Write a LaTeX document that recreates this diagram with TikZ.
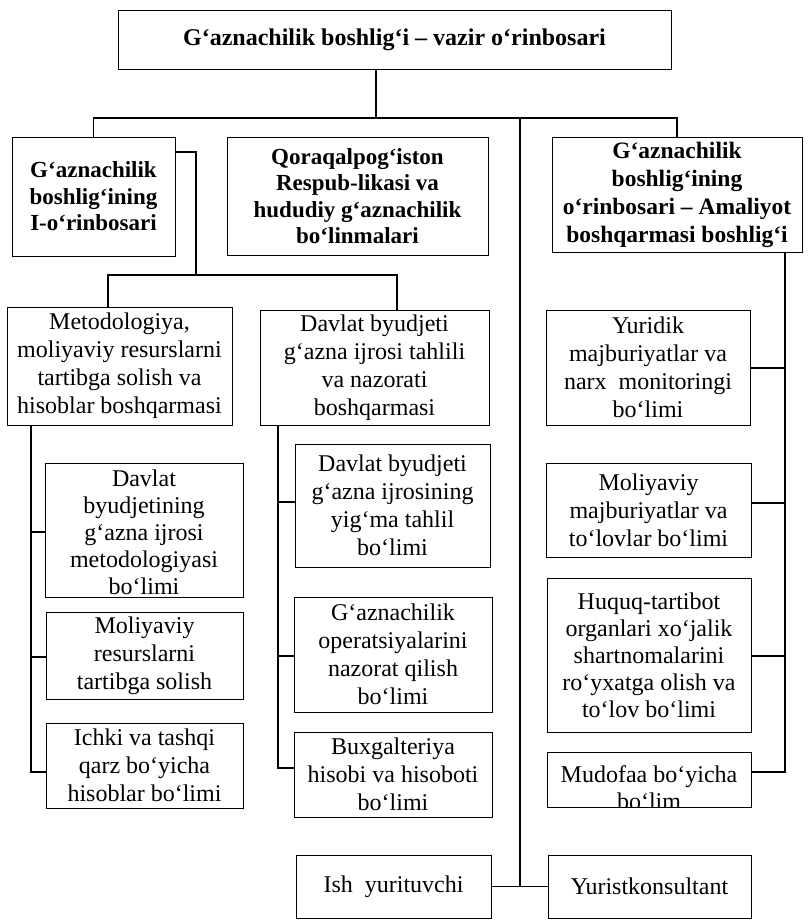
\documentclass[tikz,border=0pt]{standalone}
\usepackage{fontspec}
\setmainfont{Liberation Serif}
\begin{document}
\begin{tikzpicture}[x=1pt,y=-1pt,
  box/.style={draw, line width=1pt, inner sep=0pt, align=center},
  sz/.style n args={2}{minimum width=#1pt, minimum height=#2pt},
  bfont/.style={font=\fontsize{23}{26.5}\selectfont\bfseries},
  rfont/.style={font=\fontsize{24}{28}\selectfont},
  cfont/.style={font=\fontsize{24}{27}\selectfont},
  txt/.style={inner sep=0pt, align=center},
  wire/.style={line width=1.3pt}]
\useasboundingbox (0,0) rectangle (810,921);

% level 0
\node[box, sz={553}{59}, font=\fontsize{24}{28}\selectfont\bfseries] (top) at (394.5,39.5)
  {G‘aznachilik boshlig‘i – vazir o‘rinbosari};

% level 1
\node[box, sz={163}{119}, bfont] (L1) at (93.5,196.5)
  {G‘aznachilik\\boshlig‘ining\\I-o‘rinbosari};
\node[box, sz={261}{118}, bfont] (Q) at (357.5,196)
  {Qoraqalpog‘iston\\Respub-likasi va\\hududiy g‘aznachilik\\bo‘linmalari};
\node[box, sz={250}{115}, bfont, font=\fontsize{23.5}{28}\selectfont\bfseries] (R1) at (677,194.5)
  {G‘aznachilik\\boshlig‘ining\\o‘rinbosari – Amaliyot\\boshqarmasi boshlig‘i};

% level 2
\node[box, sz={225}{118}, rfont] (M) at (119.5,366)
  {Metodologiya,\\moliyaviy resurslarni\\tartibga solish va\\hisoblar boshqarmasi};
\node[box, sz={229}{115}, rfont] (D) at (374.5,367.5)
  {Davlat byudjeti\\g‘azna ijrosi tahlili\\va nazorati\\boshqarmasi};
\node[box, sz={204}{115}, rfont] (Y) at (648,367.5)
  {Yuridik\\majburiyatlar va\\narx\ \ monitoringi\\bo‘limi};

% M branch
\node[box, sz={198}{134}] (M1) at (144,530) {};
\begin{scope}
  \clip (M1.south west) rectangle (M1.north east);
  \node[txt, cfont] (M1t) at (144,532)
    {Davlat\\byudjetining\\g‘azna ijrosi\\metodologiyasi\\bo‘limi};
\end{scope}
\node[box, sz={197}{87}, rfont] (M2) at (144.5,655.5)
  {Moliyaviy\\resurslarni\\tartibga solish};
\node[box, sz={197}{85}, rfont] (M3) at (144.5,765.5)
  {Ichki va tashqi\\qarz bo‘yicha\\hisoblar bo‘limi};

% D branch
\node[box, sz={195}{123}, rfont] (D1) at (392.5,505.5)
  {Davlat byudjeti\\g‘azna ijrosining\\yig‘ma tahlil\\bo‘limi};
\node[box, sz={198}{115}, rfont] (D2) at (393,654.5)
  {G‘aznachilik\\operatsiyalarini\\nazorat qilish\\bo‘limi};
\node[box, sz={198}{85}, rfont] (D3) at (393,774.5)
  {Buxgalteriya\\hisobi va hisoboti\\bo‘limi};

% Y branch
\node[box, sz={205}{94}, rfont] (Y2) at (648.5,510)
  {Moliyaviy\\majburiyatlar va\\to‘lovlar bo‘limi};
\node[box, sz={204}{154}, cfont] (Y3) at (649,655)
  {Huquq-tartibot\\organlari xo‘jalik\\shartnomalarini\\ro‘yxatga olish va\\to‘lov bo‘limi};
\node[box, sz={204}{55}] (Y4) at (649,779.5) {};
\begin{scope}
  \clip (Y4.south west) rectangle (Y4.north east);
  \node[txt, cfont] (Y4t) at (649,788)
    {Mudofaa bo‘yicha\\bo‘lim};
\end{scope}

% bottom
\node[box, sz={195}{63}, rfont] (Ish) at (393.5,886.5) {Ish\ \ yurituvchi};
\node[box, sz={203}{63}, rfont] (Yur) at (649.5,886.5) {Yuristkonsultant};

% connectors
\coordinate (trunk) at (376,118);
\coordinate (spine) at (520,118);
\coordinate (spineB) at (520,886.5);
\draw[wire] (top.south -| trunk) -- (trunk);
\draw[wire] (L1.north) -- (L1.north |- trunk) -- (R1.north |- trunk) -- (R1.north);
\draw[wire] (spine) -- (spineB);
\draw[wire] (Ish.east) -- (Yur.west);

% from first deputy to its departments
\coordinate (l1c) at (196,152);
\coordinate (b2L) at (108,275);
\coordinate (b2R) at (397,275);
\draw[wire] (L1.east |- l1c) -- (l1c) -- (l1c |- b2L);
\draw[wire] (M.north -| b2L) -- (b2L) -- (b2R) -- (D.north -| b2R);

% M spine
\coordinate (mx) at (31,772);
\draw[wire] (M.south -| mx) -- (mx) -- (M3.west |- mx);
\draw[wire] (mx |- 0,532) -- (M1.west |- 0,532);
\draw[wire] (mx |- 0,657) -- (M2.west |- 0,657);

% D spine
\coordinate (dx) at (278,768);
\draw[wire] (D.south -| dx) -- (dx) -- (D3.west |- dx);
\draw[wire] (dx |- 0,502) -- (D1.west |- 0,502);
\draw[wire] (dx |- 0,656) -- (D2.west |- 0,656);

% R spine
\coordinate (rx) at (785,772);
\draw[wire] (R1.south -| rx) -- (rx) -- (Y4.east |- rx);
\draw[wire] (rx |- 0,368) -- (Y.east |- 0,368);
\draw[wire] (rx |- 0,503) -- (Y2.east |- 0,503);
\draw[wire] (rx |- 0,656) -- (Y3.east |- 0,656);
\end{tikzpicture}
\end{document}
